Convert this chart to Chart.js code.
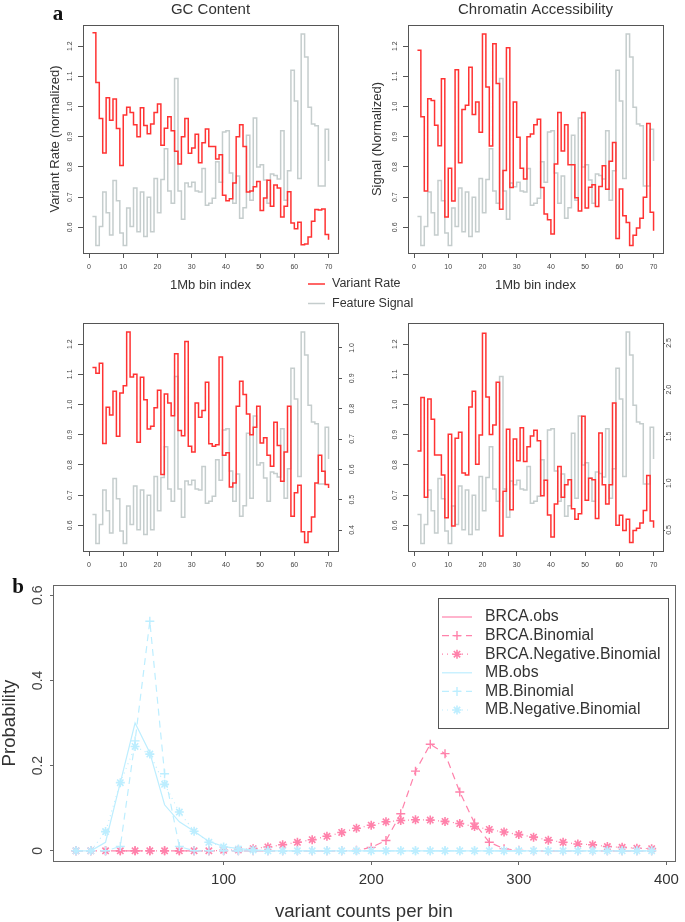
<!DOCTYPE html>
<html>
<head>
<meta charset="utf-8">
<script src="https://cdn.jsdelivr.net/npm/chart.js@4.4.1/dist/chart.umd.min.js"></script>
<style>
  body { margin: 0; background: #fff; }
  #wrap { position: relative; width: 685px; height: 922px; overflow: hidden; }
  canvas { position: absolute; }
</style>
</head>
<body>
<div id="wrap">
  <canvas id="gcChart" width="420" height="312" style="left:0;top:0"></canvas>
  <canvas id="caChart" width="345" height="300" style="left:340px;top:0"></canvas>
  <canvas id="gc2Chart" width="370" height="262" style="left:0;top:310px"></canvas>
  <canvas id="ca2Chart" width="345" height="262" style="left:340px;top:310px"></canvas>
  <canvas id="distChart" width="685" height="347" style="left:0;top:575px"></canvas>
</div>
<script>
Chart.defaults.font.family = '"Liberation Sans", Arial, sans-serif'

// ---- panel a data
const binIdx = [1,2,3,4,5,6,7,8,9,10,11,12,13,14,15,16,17,18,19,20,21,22,23,24,25,26,27,28,29,30,31,32,33,34,35,
  36,37,38,39,40,41,42,43,44,45,46,47,48,49,50,51,52,53,54,55,56,57,58,59,60,61,62,63,64,65,66,67,68,69,70]

const featureSignal = [0.636,0.54,0.603,0.717,0.648,0.575,0.755,0.688,0.581,0.54,
  0.664,0.603,0.73,0.585,0.717,0.57,0.70,0.585,0.762,0.648,
  0.758,0.86,0.72,0.68,1.093,0.72,0.627,0.747,0.734,0.749,
  0.72,0.717,0.795,0.673,0.68,0.696,0.817,0.749,0.916,0.92,
  0.78,0.68,0.77,0.63,0.665,0.905,0.69,0.962,0.80,0.807,
  0.757,0.68,0.777,0.772,0.76,0.92,0.69,0.787,1.12,1.018,
  0.762,1.24,1.164,0.998,0.942,0.936,0.737,0.737,0.925,0.82]

const rateGC = [1.244,1.08,0.96,0.846,1.029,0.955,1.025,0.927,0.805,0.972,
  0.998,0.98,0.94,0.90,0.996,0.937,0.91,0.942,0.98,1.008,
  0.872,0.928,0.966,0.92,0.852,0.81,0.90,0.96,0.845,0.863,
  0.908,0.814,0.88,0.926,0.868,0.868,0.826,0.84,0.706,0.688,
  0.695,0.747,0.90,0.94,0.868,0.717,0.72,0.734,0.752,0.656,
  0.697,0.756,0.67,0.74,0.73,0.634,0.67,0.718,0.614,0.595,
  0.617,0.542,0.545,0.568,0.62,0.659,0.657,0.661,0.576,0.559]

const rateCA = [1.186,0.966,0.72,1.026,1.02,0.938,0.87,1.092,0.634,0.796,
  0.687,1.122,0.814,0.99,1.004,1.13,0.974,1.015,0.915,1.24,
  1.065,0.869,1.208,1.076,0.66,0.788,1.195,0.732,1.015,0.898,
  0.796,0.76,0.90,0.909,0.94,0.958,0.732,0.644,0.625,0.578,
  0.81,0.98,0.853,0.94,0.807,0.807,0.698,0.654,0.98,0.664,
  0.733,0.741,0.669,0.735,0.804,0.726,0.819,0.881,0.563,0.727,
  0.638,0.616,0.54,0.574,0.598,0.63,0.70,0.944,0.65,0.589]

const rateGC2 = [1.123,1.104,1.137,0.871,0.991,0.965,1.044,0.895,1.038,1.062,
  1.24,1.091,1.10,0.875,1.09,1.016,0.919,0.928,0.989,1.047,
  0.768,1.035,1.005,0.963,1.168,0.914,0.897,1.209,0.862,0.843,
  1.005,0.958,0.98,1.074,0.87,0.862,0.867,1.157,0.832,0.84,
  0.727,0.74,0.994,1.077,1.033,0.969,0.9,0.925,0.994,0.873,
  0.89,0.832,0.796,0.941,0.864,0.746,0.843,0.994,0.63,0.708,
  0.733,0.579,0.543,0.579,0.628,0.74,0.832,0.779,0.735,0.724]

const rateCA2 = [0.846,1.023,0.693,1.018,0.951,0.833,0.833,0.767,0.625,0.902,
  0.598,0.888,0.908,0.773,0.767,0.992,1.044,0.802,0.899,1.236,
  1.025,0.901,0.932,1.074,0.565,0.713,0.918,0.652,0.886,0.814,
  0.923,0.811,0.86,0.896,0.915,0.88,0.698,0.749,0.634,0.561,
  0.671,0.795,0.693,0.734,0.751,0.655,0.62,0.638,0.961,0.683,
  0.756,0.751,0.623,0.906,0.734,0.671,0.734,1.005,0.6,0.633,
  0.583,0.62,0.543,0.583,0.59,0.608,0.649,0.765,0.614,0.592]

const binTicks = [0,10,20,30,40,50,60,70]
const rateTicks = [0.6,0.7,0.8,0.9,1.0,1.1,1.2]
const rightTicksGC2 = [0.4,0.5,0.6,0.7,0.8,0.9,1.0]
const rightTicksCA2 = [0.5,1.0,1.5,2.0,2.5]

// ---- panel b data
const counts = [0,10,20,30,40,50,60,70,80,90,100,110,120,130,140,150,160,170,180,190,
  200,210,220,230,240,250,260,270,280,290,300,310,320,330,340,350,360,370,380,390]
const seriesNames = ['BRCA.obs','BRCA.Binomial','BRCA.Negative.Binomial','MB.obs','MB.Binomial','MB.Negative.Binomial']
const brcaObs = [null,null,null,null,null,null,null,null,null,null,null,null,null,null,null,null,null,null,null,null,
  null,null,null,null,null,null,null,null,null,null,null,null,null,null,null,null,null,null,null,null]
const brcaBinom = [0,0,0,0,0,0,0,0,0,0,0,0,0,0,0,0,0,0,0,0.001,
  0.008,0.024,0.087,0.187,0.25,0.228,0.138,0.065,0.02,0.005,0.001,0,0,0,0,0,0,0,0,0]
const brcaNB = [0,0,0,0,0,0,0,0,0,0,0.001,0.002,0.005,0.009,0.014,0.02,0.026,0.034,0.043,0.053,
  0.06,0.068,0.071,0.073,0.072,0.069,0.064,0.057,0.05,0.044,0.038,0.032,0.025,0.02,0.016,0.014,0.01,0.008,0.006,0.005]
const mbObs = [0,0,0.02,0.16,0.30,0.23,0.108,0.068,0.046,0.022,0.01,0.005,0.002,0,0,0,0,0,0,0,
  0,0,0,0,0,0,0,0,0,0,0,0,0,0,0,0,0,0,0,0]
const mbBinom = [0,0,0,0.01,0.258,0.539,0.181,0.01,0,0,0,0,0,0,0,0,0,0,0,0,
  0,0,0,0,0,0,0,0,0,0,0,0,0,0,0,0,0,0,0,0]
const mbNB = [0,0,0.045,0.16,0.245,0.227,0.156,0.091,0.046,0.02,0.009,0.004,0.002,0,0,0,0,0,0,0,
  0,0,0,0,0,0,0,0,0,0,0,0,0,0,0,0,0,0,0,0]
const probTicks = [0,0.2,0.4,0.6]
const countTicks = [100,200,300,400]

const RED = '#ff3333'
const GREY = '#c5cdcd'
const PINK = '#ff82ab'
const BLUE = '#bdeeff'

function pts(xs, ys) {
  return xs.map((x, i) => ({ x: x, y: ys[i] }))
}
function fixTicks(vals) {
  return s => { s.ticks = vals.map(v => ({ value: v })) }
}

// R style box round the plot region
function boxPlugin(color) {
  return {
    id: 'rbox',
    afterDraw(chart) {
      const { ctx, chartArea: a } = chart
      ctx.save()
      ctx.strokeStyle = color
      ctx.lineWidth = 1
      ctx.strokeRect(Math.round(a.left) + 0.5, Math.round(a.top) + 0.5,
        Math.round(a.right - a.left), Math.round(a.bottom - a.top))
      ctx.restore()
    }
  }
}

// y tick labels written along the axis, like R's las=0
function rotLabels(list) {
  return {
    id: 'rotLabels',
    afterDraw(chart) {
      const ctx = chart.ctx, a = chart.chartArea
      list.forEach(ax => {
        const sc = chart.scales[ax.id]
        const x = ax.side === 'left' ? a.left - ax.gap : a.right + ax.gap
        ctx.save()
        ctx.font = ax.font
        ctx.fillStyle = '#444'
        ctx.textAlign = 'center'
        ctx.textBaseline = 'middle'
        sc.ticks.forEach(t => {
          ctx.save()
          ctx.translate(x, sc.getPixelForValue(t.value))
          ctx.rotate(-Math.PI / 2)
          ctx.fillText(t.value === 0 ? '0' : t.value.toFixed(1), 0, 0)
          ctx.restore()
        })
        ctx.restore()
      })
    }
  }
}

function textPlugin(items) {
  return {
    id: 'texts',
    afterDraw(chart) {
      const ctx = chart.ctx
      items.forEach(it => {
        ctx.save()
        ctx.font = it.font
        ctx.fillStyle = it.color || '#222'
        ctx.textAlign = it.align || 'left'
        ctx.textBaseline = it.baseline || 'alphabetic'
        ctx.fillText(it.text, it.x, it.y)
        if (it.line) {
          ctx.strokeStyle = it.line
          ctx.lineWidth = 1.5
          ctx.beginPath()
          ctx.moveTo(it.x - 24, it.y)
          ctx.lineTo(it.x - 7, it.y)
          ctx.stroke()
        }
        ctx.restore()
      })
    }
  }
}

function axisGrid(len) {
  return { drawOnChartArea: false, drawTicks: len > 0, tickLength: len, color: '#555' }
}

function binPanel(canvasId, rate, o) {
  const scales = {
    x: {
      type: 'linear', min: -1.76, max: 72.76,
      afterBuildTicks: fixTicks(binTicks),
      afterFit: s => { s.height = o.xh },
      grid: axisGrid(5),
      border: { color: '#555' },
      ticks: { font: { size: 7 }, color: '#444', padding: 5, maxRotation: 0, autoSkip: false },
      title: o.xTitle
        ? { display: true, text: '1Mb bin index', font: { size: 13 }, color: '#333', padding: { top: 0, bottom: o.xpb } }
        : { display: false }
    },
    y: {
      min: 0.515, max: 1.27,
      afterBuildTicks: fixTicks(rateTicks),
      afterFit: s => { s.width = o.yw },
      grid: axisGrid(5),
      border: { color: '#555' },
      ticks: { display: false },
      title: o.yTitle
        ? { display: true, text: o.yTitle, font: { size: 13 }, color: '#333', padding: { top: o.ypt, bottom: 0 } }
        : { display: false }
    }
  }
  const rot = [{ id: 'y', side: 'left', gap: 13, font: '7px "Liberation Sans", Arial' }]
  if (o.right) {
    scales.y2 = {
      position: 'right', min: o.right.min, max: o.right.max,
      afterBuildTicks: fixTicks(o.right.ticks),
      afterFit: s => { s.width = o.right.w },
      grid: axisGrid(o.right.tl),
      border: { color: '#555' },
      ticks: { display: false }
    }
    rot.push({ id: 'y2', side: 'right', gap: o.right.gap, font: '7px "Liberation Sans", Arial' })
  }
  const plugins = [boxPlugin('#555'), rotLabels(rot)]
  if (o.texts) plugins.push(textPlugin(o.texts))

  return new Chart(document.getElementById(canvasId), {
    type: 'line',
    data: {
      datasets: [
        { label: 'Variant Rate', data: pts(binIdx, rate), borderColor: RED, borderWidth: 1.5,
          stepped: 'before', pointRadius: 0, yAxisID: 'y' },
        { label: 'Feature Signal', data: pts(binIdx, featureSignal), borderColor: GREY, borderWidth: 1.5,
          stepped: 'before', pointRadius: 0, yAxisID: 'y' }
      ]
    },
    options: {
      responsive: false, animation: false, devicePixelRatio: 1, events: [],
      layout: { padding: { left: 0, right: o.pr, top: o.pt, bottom: 0 } },
      scales: scales,
      plugins: {
        legend: { display: false },
        tooltip: { enabled: false },
        title: {
          display: !!o.title, text: o.title || '', fullSize: false,
          font: { size: 15, weight: 'normal' }, color: '#333', padding: { top: 1, bottom: 6 }
        }
      }
    },
    plugins: plugins
  })
}

binPanel('gcChart', rateGC, {
  title: 'GC Content', yTitle: 'Variant Rate (normalized)', xTitle: true,
  yw: 83, xh: 59, pr: 82, pt: 0, ypt: 48, xpb: 19,
  texts: [
    { text: 'a', x: 58, y: 20, font: 'bold 21px "Liberation Serif", serif', align: 'center', color: '#111' },
    { text: 'Variant Rate', x: 332, y: 284, font: '12.5px "Liberation Sans", Arial', baseline: 'middle', color: '#333', line: RED },
    { text: 'Feature Signal', x: 332, y: 303.5, font: '12.5px "Liberation Sans", Arial', baseline: 'middle', color: '#333', line: GREY }
  ]
})
binPanel('caChart', rateCA, {
  title: 'Chromatin Accessibility', yTitle: 'Signal (Normalized)', xTitle: true,
  yw: 68, xh: 47, pr: 22, pt: 0, ypt: 30, xpb: 7
})
binPanel('gc2Chart', rateGC2, {
  yw: 83, xh: 21, pr: 0, pt: 13,
  right: { min: 0.3308, max: 1.0824, ticks: rightTicksGC2, w: 32, tl: 4, gap: 14 }
})
binPanel('ca2Chart', rateCA2, {
  yw: 68, xh: 21, pr: 0, pt: 13,
  right: { min: 0.2754, max: 2.714, ticks: rightTicksCA2, w: 22, tl: 2, gap: 6 }
})

// ---- panel b
const distStyle = [
  { vals: brcaObs, color: PINK, dash: [], marker: null, order: 5 },
  { vals: brcaBinom, color: PINK, dash: [7, 5], marker: 'cross', order: 4 },
  { vals: brcaNB, color: PINK, dash: [1, 4], marker: 'star', order: 3 },
  { vals: mbObs, color: BLUE, dash: [], marker: null, order: 2 },
  { vals: mbBinom, color: BLUE, dash: [7, 5], marker: 'cross', order: 1 },
  { vals: mbNB, color: BLUE, dash: [1, 4], marker: 'star', order: 0 }
]

function drawMarker(ctx, style, x, y) {
  const r = style === 'star' ? 4.5 : 4.5
  ctx.lineWidth = style === 'star' ? 1.6 : 1.4
  ctx.beginPath()
  ctx.moveTo(x - r, y); ctx.lineTo(x + r, y)
  ctx.moveTo(x, y - r); ctx.lineTo(x, y + r)
  if (style === 'star') {
    const d = r * Math.SQRT1_2
    ctx.moveTo(x - d, y - d); ctx.lineTo(x + d, y + d)
    ctx.moveTo(x - d, y + d); ctx.lineTo(x + d, y - d)
  }
  ctx.stroke()
}

const distLegend = {
  id: 'distLegend',
  afterDraw(chart) {
    const ctx = chart.ctx
    ctx.save()
    ctx.strokeStyle = '#555'
    ctx.lineWidth = 1
    ctx.strokeRect(438.5, 23.5, 230, 130)
    ctx.font = '15.8px "Liberation Sans", Arial'
    ctx.textBaseline = 'middle'
    seriesNames.forEach((name, i) => {
      const s = distStyle[i]
      const y = 42 + i * 18.6
      ctx.strokeStyle = s.color
      ctx.lineWidth = 1.2
      ctx.setLineDash(s.dash)
      ctx.beginPath()
      ctx.moveTo(442, y); ctx.lineTo(472, y)
      ctx.stroke()
      ctx.setLineDash([])
      if (s.marker) drawMarker(ctx, s.marker, 457, y)
      ctx.fillStyle = '#333'
      ctx.fillText(name, 485, y)
    })
    ctx.restore()
  }
}

new Chart(document.getElementById('distChart'), {
  type: 'line',
  data: {
    datasets: distStyle.map((s, i) => ({
      label: seriesNames[i],
      data: pts(counts, s.vals),
      borderColor: s.color,
      borderWidth: 1.2,
      borderDash: s.dash,
      pointStyle: s.marker || 'circle',
      pointRadius: s.marker ? 4.5 : 0,
      pointBorderColor: s.color,
      pointBackgroundColor: 'rgba(0,0,0,0)',
      pointBorderWidth: s.marker === 'star' ? 1.6 : 1.4,
      order: s.order
    }))
  },
  options: {
    responsive: false, animation: false, devicePixelRatio: 1, events: [],
    layout: { padding: { left: 0, right: 5, top: 10, bottom: 0 } },
    scales: {
      x: {
        type: 'linear', min: -15.6, max: 405.6,
        afterBuildTicks: fixTicks(countTicks),
        afterFit: s => { s.height = 61 },
        grid: { drawOnChartArea: false, tickLength: 4, color: '#666' },
        border: { color: '#666' },
        ticks: { font: { size: 15 }, color: '#333', padding: 6, maxRotation: 0, autoSkip: false },
        title: { display: true, text: 'variant counts per bin', font: { size: 18.6, lineHeight: 1 }, color: '#333',
          padding: { top: 0, bottom: 1 } }
      },
      y: {
        min: -0.024, max: 0.624,
        afterBuildTicks: fixTicks(probTicks),
        afterFit: s => { s.width = 53 },
        grid: { drawOnChartArea: false, tickLength: 3, color: '#666' },
        border: { color: '#666' },
        ticks: { display: false },
        title: { display: true, text: 'Probability', font: { size: 18.6, lineHeight: 1 }, color: '#333',
          padding: { top: 1, bottom: 0 } }
      }
    },
    plugins: { legend: { display: false }, tooltip: { enabled: false } }
  },
  plugins: [
    boxPlugin('#666'),
    rotLabels([{ id: 'y', side: 'left', gap: 15, font: '14px "Liberation Sans", Arial' }]),
    distLegend,
    textPlugin([{ text: 'b', x: 18, y: 18, font: 'bold 21px "Liberation Serif", serif', align: 'center', color: '#111' }])
  ]
})
</script>
</body>
</html>
